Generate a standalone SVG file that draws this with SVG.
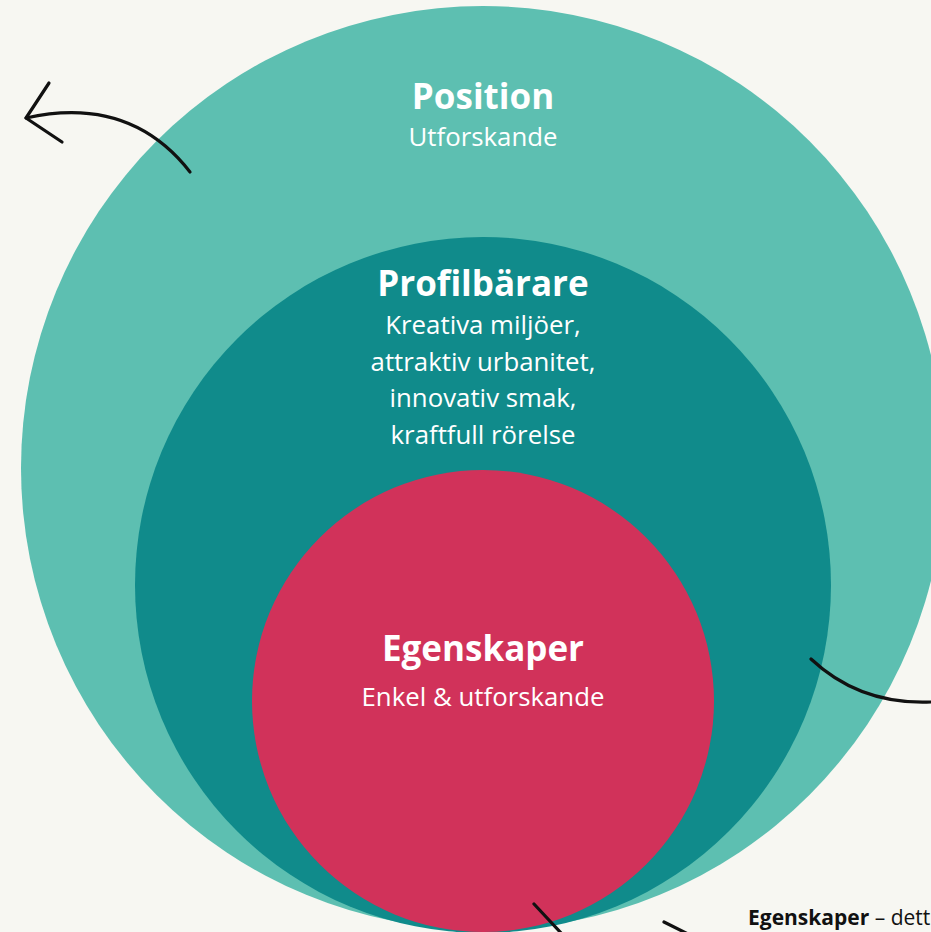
<svg xmlns="http://www.w3.org/2000/svg" width="931" height="932" viewBox="0 0 931 932">
<style>
.t{font-family:"Open Sans","Liberation Sans",sans-serif;fill:#fff;text-anchor:middle;font-variant-ligatures:none}
.h{font-weight:700;font-size:35px}
.s{font-size:25.8px}
.ln{fill:none;stroke:#111;stroke-width:3.2;stroke-linecap:round;stroke-linejoin:round}
</style>
<rect width="931" height="932" fill="#F7F7F2"/>
<g id="position">
<circle cx="483" cy="468" r="462" fill="#5DBFB1"/>
<text class="t h" x="483" y="109">Position</text>
<text class="t s" x="483" y="146">Utforskande</text>
</g>
<g id="profilbarare">
<circle cx="483" cy="585" r="348" fill="#108B8B"/>
<text class="t h" x="483" y="296" font-size="34">Profilbärare</text>
<text class="t s" x="483" y="334">Kreativa miljöer,</text>
<text class="t s" x="483" y="370.5">attraktiv urbanitet,</text>
<text class="t s" x="483" y="407">innovativ smak,</text>
<text class="t s" x="483" y="443.5">kraftfull rörelse</text>
</g>
<g id="egenskaper">
<circle cx="483" cy="701" r="231" fill="#D1325A"/>
<text class="t h" x="483" y="661">Egenskaper</text>
<text class="t s" x="483" y="706">Enkel &amp; utforskande</text>
</g>
<g id="connectors">
<path class="ln" d="M190,172 Q130,95 26,118"/>
<path class="ln" d="M49,83 L26,118 L62,142"/>
<path class="ln" d="M811,659 Q860,705 931,702"/>
<path class="ln" d="M534,904 L562,934"/>
<path class="ln" d="M664,922 L688,934"/>
</g>
<text x="748" y="925" font-family="'Open Sans','Liberation Sans',sans-serif" font-size="21" fill="#111"><tspan font-weight="700">Egenskaper</tspan> – dett</text>
</svg>
